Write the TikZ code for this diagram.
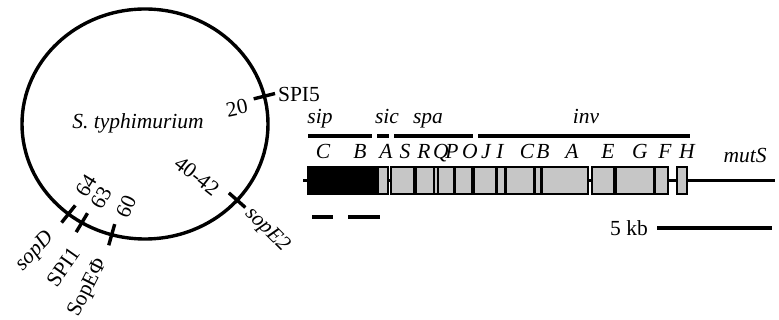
\documentclass[tikz,border=0pt]{standalone}
\usepackage{fontspec}
\setmainfont{Liberation Serif}
\definecolor{genegray}{HTML}{C6C6C6}
\begin{document}
\begin{tikzpicture}[x=1pt,y=-1pt,
  lbl/.style={font=\fontsize{21.5}{23}\selectfont, inner sep=0pt},
  ilbl/.style={font=\fontsize{21.5}{23}\selectfont\itshape, inner sep=0pt},
  tickmark/.style={line width=3.4pt},
  genebox/.style={fill=genegray, draw=black, line width=2pt},
  blackbox/.style={fill=black, draw=black, line width=2pt},
  linker/.style={line width=3pt},
  divider/.style={line width=3.4pt},
  thindiv/.style={line width=2pt},
  opbar/.style={line width=3.4pt},
  probe/.style={line width=4.5pt}]
\useasboundingbox (0,0) rectangle (779,320);
% chromosome
\coordinate (cc) at (145,124);
\draw[line width=3.4pt] (cc) ellipse [x radius=123pt, y radius=115pt];
\node[ilbl] (species) at (138,123) {S. typhimurium};
\foreach \t/\n in {14/spi5,-41.5/sope2,-128.5/sopd,-120.9/spi1,-105.7/sopephi}{
  \coordinate (\n-in) at ({145+112*cos(\t)},{124-104*sin(\t)});
  \coordinate (\n-out) at ({145+134*cos(\t)},{124-126*sin(\t)});
  \draw[tickmark] (\n-in) -- (\n-out);
}
\node[lbl] (n20) at (237,108) [rotate=12] {20};
\node[lbl] (SPI5) at (299,94) {SPI5};
\node[lbl] (n4042) at (197,176) [rotate=-38] {40-42};
\node[ilbl] (sopE2) at (267,230) [rotate=-45] {sopE2};
\node[lbl] (n64) at (86,186) [rotate=58] {64};
\node[lbl] (n63) at (101,198) [rotate=60] {63};
\node[lbl] (n60) at (126,207) [rotate=65] {60};
\node[ilbl] (sopD) at (35,252) [rotate=47] {sopD};
\node[lbl] (SPI1) at (63,267) [rotate=55] {SPI1};
\node[lbl] (SopEPhi) at (88,288) [rotate=63] {SopEΦ};
% operon labels and bars
\node[ilbl, anchor=base] (sip) at (320,124) {sip};
\node[ilbl, anchor=base] (sic) at (387,124) {sic};
\node[ilbl, anchor=base] (spa) at (428,124) {spa};
\node[ilbl, anchor=base] (inv) at (586,124) {inv};
\coordinate (sipA) at (308,136); \coordinate (sipB) at (372,136);
\coordinate (sicA) at (377,136); \coordinate (sicB) at (389,136);
\coordinate (spaA) at (394,136); \coordinate (spaB) at (473,136);
\coordinate (invA) at (478,136); \coordinate (invB) at (690,136);
\draw[opbar] (sipA) -- (sipB);
\draw[opbar] (sicA) -- (sicB);
\draw[opbar] (spaA) -- (spaB);
\draw[opbar] (invA) -- (invB);
% gene letters
\foreach \x/\g/\n in {323/C/g1,360/B/g2,386/A/g3,405/S/g4,424/R/g5,441/Q/g6,452/P/g7,470/O/g8,486/J/g9,500/I/g10,527/C/g11,543/B/g12,572/A/g13,608/E/g14,640/G/g15,665/F/g16,687/H/g17}{
  \node[ilbl, anchor=base] (\n) at (\x,159) {\g};
}
% linkers
\coordinate (l0a) at (303,181); \coordinate (l0b) at (308,181);
\coordinate (l1a) at (388,181); \coordinate (l1b) at (391,181);
\coordinate (l2a) at (588,181); \coordinate (l2b) at (592,181);
\coordinate (l3a) at (668,181); \coordinate (l3b) at (677,181);
\coordinate (l4a) at (687,181); \coordinate (l4b) at (775,181);
\draw[linker] (l0a) -- (l0b);
\draw[linker] (l1a) -- (l1b);
\draw[linker] (l2a) -- (l2b);
\draw[linker] (l3a) -- (l3b);
\draw[linker] (l4a) -- (l4b);
% gene boxes
\draw[blackbox] (308,167) rectangle (378,194);
\draw[genebox] (378,167) rectangle (388,194);
\draw[genebox] (391,167) rectangle (588,194);
\foreach \x in {415,454.5,473,496.5,505.5,534.5,541.5}{
  \draw[divider] (\x,167) -- (\x,194);
}
\foreach \x in {434,437.5}{
  \draw[thindiv] (\x,167) -- (\x,194);
}
\draw[genebox] (592,167) rectangle (668,194);
\foreach \x in {615,654.5}{
  \draw[divider] (\x,167) -- (\x,194);
}
\draw[genebox] (677,167) rectangle (687,194);
\node[ilbl, anchor=base] (mutS) at (745,163) {mutS};
% probes
\coordinate (p1a) at (312,217); \coordinate (p1b) at (333,217);
\coordinate (p2a) at (348,217); \coordinate (p2b) at (380,217);
\draw[probe] (p1a) -- (p1b);
\draw[probe] (p2a) -- (p2b);
% scale bar
\node[lbl] (kb) at (629,228) {5 kb};
\coordinate (sbA) at (657,228); \coordinate (sbB) at (772,228);
\draw[opbar] (sbA) -- (sbB);
\end{tikzpicture}
\end{document}
